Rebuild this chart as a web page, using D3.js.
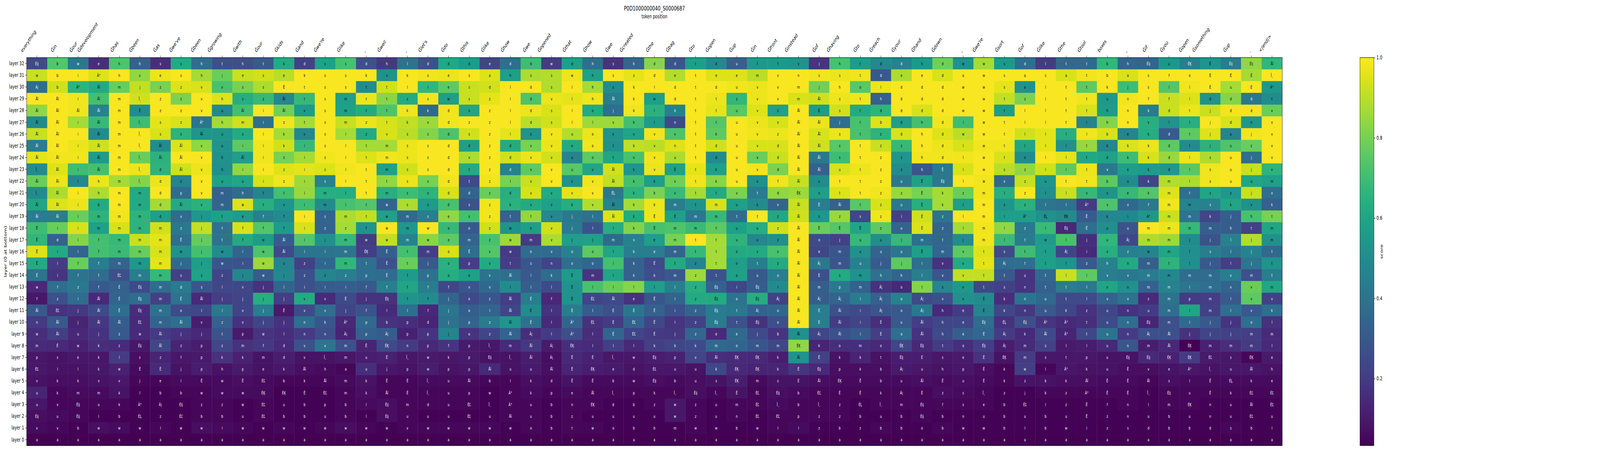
<!DOCTYPE html>
<html>
<head>
<meta charset="utf-8">
<script src="https://cdnjs.cloudflare.com/ajax/libs/d3/7.8.5/d3.min.js"></script>
<style>
  body { margin: 0; background: white; overflow: hidden; }
  text { font-family: "DejaVu Sans", sans-serif; }
</style>
</head>
<body>
<div id="chart"></div>
<script>
// token labels along the top
var xTokens = ["everything","Ġin","Ġour","Ġdevelopment","Ġhas","Ġbeen","Ġas","Ġwe've","Ġbeen","Ġgrowing","Ġwith","Ġour","Ġkids","Ġand","Ġwe're","Ġlike",",","Ġwell",",","Ġlet's","Ġdo","Ġthis","Ġlike","Ġhow","Ġwe","Ġopened","Ġthat","Ġhow","Ġwe","Ġcreated","Ġthe","Ġbag","Ġto","Ġopen","Ġup","Ġin","Ġfront","Ġinstead","Ġof","Ġhaving","Ġto","Ġreach","Ġyour","Ġhand","Ġdown",",","Ġwe're","Ġsort","Ġof","Ġlike","Ġthe","Ġtool","boxes",",","Ġif","Ġyou","Ġopen","Ġsomething","Ġup",".","<|end|>"];

// layers from the top row to the bottom row
var layers = d3.range(32, -1, -1).map(function(i) { return "layer " + i; });

// decoded token per cell, one string per column, layer 32 first
var cellTokens = [
"Éij w Ã¦ Åĭ Åĭ Åĭ Åĭ Åĭ Åĭ Î¸ Åĭ Î¸ Åĭ Åĭ Ê Ê Ê Ê Ê w f Åĭ n w m p ÉĽ v u u Éij v a",
"b b b Åĭ Åĭ Åĭ Åĭ Åĭ Åĭ Åĭ Åĭ Åĭ Åĭ Åĭ i d i i i f z ÉĽ Åĭ Åĭ Ê s l k k v u v a",
"w i Ã° i Åĭ i i i i i i i i i i i i f f z i j j u w e l k m Éij Éij b a",
"e Ã° Åĭ Åĭ Åĭ Åĭ Åĭ Åĭ Åĭ Åĭ h h b m m f f f f f Åĭ Åĭ Åĭ j k k k v m u l w a",
"h h m m m m m m m m m m m m m m m m ÉĽ É É Ê Åĭ z z l w v k k b w a",
"h s j Î¸ Ê Î¸ Î¸ Î¸ Î¸ Î¸ Î¸ m m m m m m m m Éij Éij Éij ÉĽ w Éij s Ê j l Ã° ÉĻ w a",
"s e z z z s s Åĭ Åĭ d d d d d m m m m m m m m m Åĭ Åĭ z Ê e b Ã¦ z l a",
"s s z z z z s Åĭ Åĭ Åĭ z p Åĭ v z Ê w j s d Ê o Åĭ j z f j l b Éij ÉĽ w a",
"h h v v v Ã° Åĭ v v v v v v j j j j j s s Åĭ l v j p p p Ê w z b w a",
"t j v h u h u u h h u m m t t t w w z l j l z t z k h w w z b l a",
"h e s s Åĭ m s i Åĭ i u h w e f f i i j v j v v p m k p Ê w w u w a",
"t s s z i i i i i i i t t f f w w w w j j j j w f m e ÉĽ ÉĶ ÉĽ ÉĽ w a",
"k e Ê Åĭ Åĭ z k k z z z t v f f Åĭ Åĭ u j l j Ê j l d d k b ÉĶ u b w a",
"d k t t v t v i i i i i i i i i i z z i v v n n v v Åĭ k Ê b b w a",
"s s s s s s s s s s s m m s z j i i z i v v k n v Î¸ h Åĭ ÉĽ p u w a",
"s s s m m m l l l l l l l m z m m m z i Ê j Ã° Ã¦ m m a m m b b w a",
"d k t t t z z t t t t t t t f w ÉĶ t p f j f p p Ê u u k k l l w a",
"h s t t t t v m m m t m w w w w Ê Ê Ê f Éij l b Ã¦ ÉĶ Ê j Ê Åĭ Éij Éij w a",
"l k l s k k s s s s s s s m m m t t f f f l p p n Î¸ p Ê Ê m u v a",
"d s l s k v s s s s s s s s w w m j p f f f d p p w w Î¸ Î¸ d u w a",
"d e e w d d d d d d d d d e o o o o o f j j j j f k p u u u u w a",
"d s s s s z s d v t t d s s o m Ê p o v o o p o p p p Åĭ p ÉĽ ÉĽ w a",
"e a d z z z z z z z z z z z z z v v v v z l z z Î¸ Éij Åĭ b w Î¸ u w a",
"d h l l l l l d d d l d k t w w w t Åĭ l Åĭ Åĭ Åĭ Åĭ m Î¸ u l Ã° Ã° Åĭ w a",
"d s d d d d s v v v v v v t n m n s l l É É É Ã¦ Åĭ Åĭ u k k u u o a",
"w s s v s s v v v v v v v v v v v n k l f l l l Ã¦ Ã¦ Åĭ d p b b b a",
"d w l l l l u o u u v v k j j j o o É É É É Ã° Ã° ÉĶ Ê Ê Ê e n z t a",
"h h h h o l o o o v v v v l l j o o m l ÉĽ l ÉĽ l l É ÉĶ Ê Åĭ ÉĶ u w a",
"s s s Åĭ j v v t t Åĭ Åĭ ÉĻ Åĭ Åĭ l m l l l l Åĭ É É É l Î¸ e b Î¸ d u o a",
"h s k k k k v k v k k k k k k v k k k l e É ÉĽ ÉĽ l w d w p b u b a",
"d d l w l l v v v v k k k Ê Ê e e Ê k l Ê Ê Ê Ê k Éij ÉĽ Éij k z u b a",
"d e d d k n v n u É v v m É m m m t m l l i l j k p u b Î¸ w w m a",
"t t t t t t t t t t t t t m m t t z z z z z z z k v u u Éij z z w a",
"d e d t t t k d d k k t m m t t t t t Éij Éij Éij Éij e m Åĭ k s Î¸ u u w a",
"u e u z u u u u u u u v u t u u o o o i o t t e o ÉĶ ÉĶ ÉĶ Ê m n b a",
"f m v v v v v v v v v t k t u u v t u Éij Éij Ã¦ Éij j m ÉĶ ÉĶ m ÉĽ ÉĽ ÉĽ w a",
"f v v v z v z d d d f d v z z z z z o l Ã¦ o o b m k k s Éij Î¸ ÉĽ l a",
"v n m m Åĭ Åĭ Åĭ Åĭ Åĭ Åĭ Åĭ ÉĶ Åĭ Åĭ Åĭ Åĭ Åĭ Åĭ Åĭ Åĭ Åĭ Åĭ Åĭ Åĭ ÉĶ Åĭ Ê É b b p l a",
"j s j Åĭ É Åĭ Åĭ Åĭ Åĭ Åĭ s s Ê s É o e Ã¦ É m Ã¦ É É Ã¦ k Ê Éij Åĭ ÉĽ Î¸ z z a",
"h s h s s j s s s u t t Åĭ z É j m m s p Ã¦ Åĭ Åĭ Åĭ o k p ÉĶ Ê z z b a",
"t t o t t t t t t t t t t s É u u u m m i i i i m k k Ê Ê ÉĻ b z a",
"d d l h d b z z z z z z z z z u u j h Ã¦ Ã¦ Ã¦ É É o t b b k Î¸ u b a",
"d e d d d d d z z z u z u i u j u j h o o o u o ÉĶ Éij Ã¦ u Ã¦ m b b a",
"h e d d d h h h h h É É É É É m Ê l l t Ã¦ Ã¦ Åĭ Åĭ Éij É u Åĭ Ê Éij Éij o a",
"d d d d d d d d d Ê Éij k k z z t m v v s v h h h t s h Ê z f b b a",
"w a w w w l w l l l l z l l l j v v v v v e e e o e p u s s n w a",
"w w w w w w w w w w w m m m m m t t t t É É Éij É Éij Ê Ê Ê Î¸ e u w a",
"s s s t t t t t t s s l s l l l s Ã¦ t s k k ÉĻ Ã¦ Ã¦ ÉĶ k k z b b b a",
"d a a z l l l l z z z z z Ã° z t t t u n n n Éij k m m w z j ÉĽ u l a",
"l s l l l l l l l l u l l ÉĻ l w t t t t u u Ã° Åĭ s s l k k l b b a",
"t a t t t t l l l l t l l ÉĶ Éij l Ã¦ l l t t k Ã° Ã° l t Ã° k z z u w a",
"t t t t t l l t t t t v Ã° Ê Ê j i z l l l z t t l p k Åĭ Ã° Ê Ê i a",
"b b k u h h b k d v b v v k u u v h v v v u u u u u u Ê Ê f z z a",
"h a j n n n e k k e u e v i u Ã¦ z n v n v n n n n Éij Ê Ê Ê n n s a",
"Éij s s f k v k k k k k k f Ã° m m w m m m z u Éij Ã¦ m Éij v Åĭ Î¸ l u d a",
"u f l f d l d d d d m m m m m m m t m m m m m Åĭ Åĭ ÉĶ e s Éij m b b a",
"ÉĶ o l l t l t l l l l t m m m j l l m l p l l j ÉĶ ÉĶ Ã° l u ÉĶ u b a",
"É É É d j j j j s s s s s k m j s j m m m m j j m ÉĽ Î¸ Ê Ê n n d a",
"Éij É u d d d u u u u u z k j h l l l v v l l j j m s u ÉĻ k u u s a",
"Éij É É d d n j s j j u j v h t j j j m v v v o m m ÉĶ Åĭ k ÉĽ Åĭ ÉĽ b a",
"Åĭ Î¸ Ã° t v v v v v v m v k t m m t t t m v k l m l e h e ÉĽ ÉĽ u l a"
];

// score per cell in hundredths, same order as cellTokens
var cellScores = [
[25,92,38,99,84,50,92,44,96,50,78,50,60,44,70,67,95,62,40,14,9,30,20,16,15,9,9,8,13,9,7,6,3],
[74,99,93,99,99,99,99,99,98,95,97,88,95,44,78,33,62,20,18,38,27,17,30,21,14,8,8,7,5,5,6,5,3],
[42,99,66,98,98,87,99,97,98,70,49,99,97,78,94,82,34,78,40,42,37,19,13,14,12,9,8,7,6,5,5,4,3],
[16,95,62,71,46,68,50,93,56,71,97,88,62,66,58,71,71,44,37,30,15,25,19,17,16,9,9,8,6,5,4,7,3],
[73,99,78,99,99,99,99,99,99,99,87,99,99,98,94,68,69,34,27,33,34,38,31,30,15,20,12,9,8,5,4,6,3],
[33,84,91,93,50,70,99,99,78,97,82,62,62,66,66,92,78,55,44,25,37,16,15,15,9,7,6,5,4,4,4,4,3],
[16,97,80,99,99,96,94,50,65,66,97,99,87,57,93,96,94,96,68,37,22,39,34,20,24,13,15,5,4,4,4,5,3],
[62,99,95,81,99,94,66,95,99,93,47,37,62,37,42,38,52,36,22,43,40,25,38,17,13,9,8,6,5,4,4,4,3],
[38,87,94,99,99,41,54,84,99,97,99,99,65,55,91,77,71,57,59,29,15,24,11,14,11,10,11,6,5,5,5,7,3],
[27,78,72,95,49,87,54,53,52,51,58,33,34,58,39,40,50,29,23,24,21,42,33,28,24,17,8,6,6,5,5,6,3],
[26,92,80,63,71,93,62,76,57,84,60,37,95,56,94,62,34,28,48,24,23,23,17,10,17,12,10,7,6,4,4,5,3],
[30,93,88,68,99,38,99,98,98,99,94,47,64,45,74,56,73,86,31,17,63,44,23,18,19,8,8,6,6,5,5,4,3],
[62,90,99,48,79,98,87,93,80,95,98,71,54,50,56,31,25,47,48,34,21,10,17,16,15,11,9,5,4,4,4,5,3],
[22,99,99,68,56,87,48,68,87,96,86,85,70,99,94,74,40,22,27,27,62,25,38,20,27,8,7,5,4,4,4,4,3],
[58,99,99,99,99,99,99,99,98,95,46,64,50,34,34,52,40,35,47,31,15,38,29,26,41,8,6,5,4,4,4,5,3],
[72,99,99,57,58,92,87,99,99,98,99,63,72,88,87,68,41,67,44,32,25,23,14,13,27,9,5,6,5,5,5,7,3],
[27,99,50,97,62,97,62,87,95,99,99,99,74,91,53,20,21,38,38,30,17,28,36,33,13,11,16,8,7,6,4,5,3],
[19,52,93,83,73,94,94,87,98,58,84,64,34,58,99,91,32,27,37,45,17,15,17,31,25,12,9,5,5,7,7,4,3],
[40,99,99,62,98,91,90,97,97,93,97,70,88,36,55,46,71,78,56,60,53,38,16,12,20,9,8,5,5,5,5,5,3],
[27,98,67,98,36,86,82,99,99,99,80,66,56,44,99,83,21,30,39,44,50,14,13,18,14,10,11,6,5,5,4,5,3],
[61,97,76,57,98,98,73,99,99,99,98,94,72,84,68,76,94,65,63,24,34,41,39,47,18,9,8,6,5,5,4,5,3],
[56,99,92,92,60,99,93,57,88,62,25,34,28,71,30,34,38,21,58,29,25,32,34,18,10,10,9,6,5,5,4,5,3],
[23,95,93,96,99,99,99,99,99,99,98,78,98,98,93,72,74,62,40,36,29,34,43,23,9,8,14,5,4,4,4,5,3],
[38,57,99,99,99,99,96,62,93,45,80,64,65,33,53,86,20,21,38,50,21,23,54,34,15,8,8,5,5,5,5,4,3],
[70,88,99,73,97,90,53,80,97,76,92,94,62,84,57,20,37,29,30,32,44,50,39,16,19,11,10,7,6,5,5,5,3],
[20,89,89,97,94,93,98,97,93,99,99,62,58,49,93,88,37,23,37,25,14,17,15,20,10,7,7,6,5,4,4,4,3],
[57,97,99,96,99,99,89,62,47,75,53,96,63,42,43,57,45,38,56,53,53,44,34,26,16,14,13,8,6,5,5,5,3],
[38,58,87,98,62,86,97,98,76,60,98,99,89,39,28,58,76,35,18,72,23,31,17,16,15,12,11,6,5,5,4,5,3],
[17,99,50,44,38,86,53,52,60,93,91,42,47,95,63,36,60,71,60,78,25,27,20,34,21,9,10,6,5,4,4,4,3],
[35,96,99,99,98,71,60,91,72,54,71,66,87,62,82,45,44,33,33,82,17,41,34,23,14,9,8,6,5,4,4,4,3],
[83,99,99,57,65,56,98,90,98,97,57,81,97,97,72,57,44,25,26,57,29,33,24,20,21,11,9,7,5,5,4,4,3],
[29,89,99,99,45,25,73,95,88,58,79,69,44,58,73,80,34,62,30,45,34,27,18,19,23,12,9,6,5,9,9,4,3],
[57,99,99,99,99,99,99,99,99,96,98,87,53,42,69,99,68,47,86,64,62,34,22,35,25,23,8,7,7,5,5,5,3],
[49,95,99,97,96,74,76,93,50,58,83,62,94,68,76,87,87,87,28,33,62,43,43,15,36,16,24,8,5,4,4,4,3],
[33,95,98,67,75,99,99,99,99,99,99,81,58,37,58,66,62,57,58,24,40,42,27,36,34,15,14,11,8,5,5,4,3],
[55,90,97,97,95,97,98,94,78,98,52,43,50,99,63,48,62,44,30,31,63,33,17,25,29,14,13,6,5,5,4,4,3],
[55,99,99,99,58,94,97,94,92,81,98,84,34,61,93,51,72,62,44,50,22,35,27,18,24,11,13,8,7,6,5,5,3],
[53,99,99,94,99,99,99,99,99,99,92,86,92,93,99,99,99,99,99,99,99,99,99,52,84,53,18,8,6,5,5,6,3],
[18,98,79,93,56,97,94,93,42,33,50,57,44,55,78,25,24,42,27,32,32,44,44,24,13,22,14,7,5,5,5,4,3],
[72,97,99,97,93,38,97,75,70,94,99,95,33,85,74,22,29,29,62,42,34,27,20,27,16,8,7,6,5,5,5,4,3],
[56,98,75,98,62,72,72,99,99,97,99,99,75,24,60,68,52,45,52,33,43,25,23,30,16,13,7,6,5,4,4,4,3],
[49,30,97,33,66,95,66,92,99,99,99,98,94,98,76,51,34,31,39,17,33,29,16,21,14,8,7,6,5,5,4,5,3],
[46,88,99,99,99,57,94,68,54,50,42,85,42,22,34,68,41,76,34,14,46,30,30,38,24,11,10,6,5,5,4,4,3],
[55,99,99,99,94,71,99,99,98,29,58,80,64,93,95,38,57,38,44,82,25,42,21,17,14,11,9,7,5,5,5,4,3],
[79,94,99,99,99,98,95,97,98,42,42,87,87,40,34,35,35,17,29,48,27,15,24,25,20,9,8,6,7,5,4,5,3],
[52,99,99,99,99,70,90,94,98,94,99,78,57,99,87,50,76,62,91,55,52,20,24,32,16,10,9,7,6,5,4,4,3],
[87,99,99,99,99,99,99,98,99,99,98,98,99,99,98,98,95,96,91,24,50,47,37,35,21,17,7,6,5,5,4,4,3],
[55,99,96,91,56,99,99,98,94,90,36,64,54,57,84,69,25,37,30,22,16,24,17,20,11,8,5,5,4,4,4,4,3],
[38,99,52,81,99,99,93,60,50,84,92,99,65,57,42,43,70,38,18,18,40,19,26,15,15,20,21,8,4,4,4,4,3],
[20,99,99,99,99,99,96,96,99,93,54,51,41,52,69,56,57,57,36,33,36,30,18,25,22,9,5,8,5,4,4,4,3],
[36,94,99,99,99,99,64,52,96,76,99,92,39,50,14,72,23,53,92,44,25,24,15,13,10,9,9,7,5,4,4,4,3],
[36,98,76,98,94,47,98,85,61,97,98,68,20,31,38,16,15,30,76,42,25,17,16,24,11,9,8,7,5,4,4,4,3],
[67,99,99,55,56,82,94,48,59,42,76,53,73,48,51,67,64,46,44,60,34,24,25,40,14,8,8,6,5,4,4,3,3],
[35,94,70,98,99,99,47,95,70,57,50,68,36,48,28,24,45,62,42,52,40,17,38,20,29,8,7,6,5,5,4,4,3],
[34,99,99,99,43,64,63,97,94,56,23,74,42,55,99,88,47,32,43,33,15,20,13,27,11,14,7,5,4,4,4,4,3],
[54,99,74,92,92,53,31,76,85,55,89,95,98,92,97,86,60,66,48,46,40,38,27,27,14,12,8,7,5,5,4,4,3],
[44,99,98,95,97,64,76,50,97,75,88,38,47,40,68,50,51,51,37,41,20,60,36,17,4,20,9,6,5,5,4,4,3],
[53,99,99,53,92,99,95,65,88,98,98,60,46,24,32,28,44,30,37,38,21,22,30,23,12,10,8,6,5,4,4,4,3],
[44,99,87,82,98,94,47,73,99,99,99,55,60,32,32,45,40,21,44,34,30,38,18,22,16,9,9,6,5,4,4,5,3],
[84,87,99,42,98,55,98,78,38,92,60,92,52,72,22,89,46,41,27,78,76,30,38,21,20,5,9,6,5,4,4,4,3],
[67,99,55,50,78,99,99,99,99,66,58,38,33,80,60,52,36,53,44,60,22,38,17,15,14,10,8,6,5,4,4,4,3]
];

var colorbarTicks = [0.2, 0.4, 0.6, 0.8, 1.0];
var scoreMin = 0.033;
var scoreMax = 1;

var svgWidth = 6100;
var svgHeight = 1155;
var margin = { top: 147.5, right: 1211.4, bottom: 13.9, left: 101.5 };
var width = svgWidth - margin.left - margin.right;
var height = svgHeight - margin.top - margin.bottom;

// the browser can come up narrower than 6100, so draw in 6100x1155 units and fit to the window
var svg = d3.select("#chart")
  .append("svg")
  .attr("viewBox", `0 0 ${svgWidth} ${svgHeight}`)
  .attr("preserveAspectRatio", "none")
  .attr("width", Math.min(window.innerWidth, svgWidth))
  .attr("height", svgHeight)
  .style("display", "block");

var chartGroup = svg.append("g")
  .attr("transform", `translate(${margin.left}, ${margin.top})`);

var xScale = d3.scaleBand().domain(d3.range(xTokens.length)).range([0, width]);
var yScale = d3.scaleBand().domain(layers).range([0, height]);
var colorScale = d3.scaleSequential(d3.interpolateViridis).domain([scoreMin, scoreMax]).clamp(true);

// flatten columns into cells
var cells = [];
cellScores.forEach(function(col, i) {
  var toks = cellTokens[i].split(" ");
  col.forEach(function(v, j) {
    cells.push({ col: i, layer: layers[j], score: v / 100, token: toks[j] });
  });
});

chartGroup.selectAll("rect.cell")
  .data(cells)
  .enter()
  .append("rect")
  .attr("class", "cell")
  .attr("x", d => xScale(d.col))
  .attr("y", d => yScale(d.layer))
  .attr("width", xScale.bandwidth() + 0.5)
  .attr("height", yScale.bandwidth() + 0.5)
  .attr("fill", d => colorScale(d.score));

chartGroup.selectAll("text.cell-label")
  .data(cells)
  .enter()
  .append("text")
  .attr("class", "cell-label")
  .attr("x", d => xScale(d.col) + xScale.bandwidth() / 2)
  .attr("y", d => yScale(d.layer) + yScale.bandwidth() / 2)
  .attr("dy", "0.36em")
  .attr("text-anchor", "middle")
  .attr("font-size", 11.1)
  .attr("fill", d => d.score < 0.47 ? "white" : "black")
  .text(d => d.token);

// frame round the heatmap
chartGroup.append("rect")
  .attr("width", width)
  .attr("height", height)
  .attr("fill", "none")
  .attr("stroke", "black")
  .attr("stroke-width", 1.1);

// y axis
var yAxis = chartGroup.append("g").call(d3.axisLeft(yScale).tickSize(4.9).tickPadding(4.9));
yAxis.select(".domain").remove();
yAxis.selectAll("text").attr("font-size", 13.9).attr("fill", "black").style("font-family", '"DejaVu Sans", sans-serif');
yAxis.selectAll("line").attr("stroke-width", 1.1);

// x axis on top, labels turned 45 degrees with the box right-aligned on the tick
var xAxis = chartGroup.append("g").call(
  d3.axisTop(xScale).tickSize(4.9).tickFormat(i => xTokens[i])
);
xAxis.select(".domain").remove();
xAxis.selectAll("line").attr("stroke-width", 1.1);
var labelDescent = 3.3;
xAxis.selectAll("text")
  .attr("font-size", 13.9)
  .attr("fill", "black")
  .style("font-family", '"DejaVu Sans", sans-serif')
  .attr("text-anchor", "start")
  .attr("y", 0)
  .attr("dy", 0)
  .attr("transform", function() {
    var w = this.getComputedTextLength();
    var sx = -(w + labelDescent) * Math.SQRT1_2;
    var sy = -9.8 - labelDescent * Math.SQRT1_2;
    return `translate(${sx}, ${sy}) rotate(-45)`;
  });

// titles
svg.append("text")
  .attr("x", margin.left + width / 2)
  .attr("y", 27.5)
  .attr("text-anchor", "middle")
  .attr("font-size", 16.67)
  .text("P0D1000000040_S0000687");

svg.append("text")
  .attr("x", margin.left + width / 2)
  .attr("y", 47.5)
  .attr("text-anchor", "middle")
  .attr("font-size", 13.9)
  .text("token position");

svg.append("text")
  .attr("transform", `translate(25, ${margin.top + height / 2}) rotate(-90)`)
  .attr("text-anchor", "middle")
  .attr("font-size", 13.9)
  .text("layer (0 at bottom)");

// colorbar
var barX = 5185;
var barWidth = 53;
var barScale = d3.scaleLinear().domain([scoreMin, scoreMax]).range([margin.top + height, margin.top]);

var defs = svg.append("defs");
var gradient = defs.append("linearGradient")
  .attr("id", "viridis-bar")
  .attr("x1", 0).attr("y1", 1).attr("x2", 0).attr("y2", 0);
gradient.selectAll("stop")
  .data(d3.range(0, 1.0001, 0.02))
  .enter()
  .append("stop")
  .attr("offset", d => d)
  .attr("stop-color", d => d3.interpolateViridis(d));

svg.append("rect")
  .attr("x", barX)
  .attr("y", margin.top)
  .attr("width", barWidth)
  .attr("height", height)
  .attr("fill", "url(#viridis-bar)")
  .attr("stroke", "black")
  .attr("stroke-width", 1.1);

var barAxis = svg.append("g")
  .attr("transform", `translate(${barX + barWidth}, 0)`)
  .call(d3.axisRight(barScale).tickValues(colorbarTicks).tickSize(4.9).tickPadding(4.9).tickFormat(d3.format(".1f")));
barAxis.select(".domain").remove();
barAxis.selectAll("text").attr("font-size", 13.9).attr("fill", "black").style("font-family", '"DejaVu Sans", sans-serif');
barAxis.selectAll("line").attr("stroke-width", 1.1);

svg.append("text")
  .attr("transform", `translate(5272, ${margin.top + height / 2}) rotate(-90)`)
  .attr("text-anchor", "middle")
  .attr("font-size", 13.9)
  .text("score");
</script>
</body>
</html>
